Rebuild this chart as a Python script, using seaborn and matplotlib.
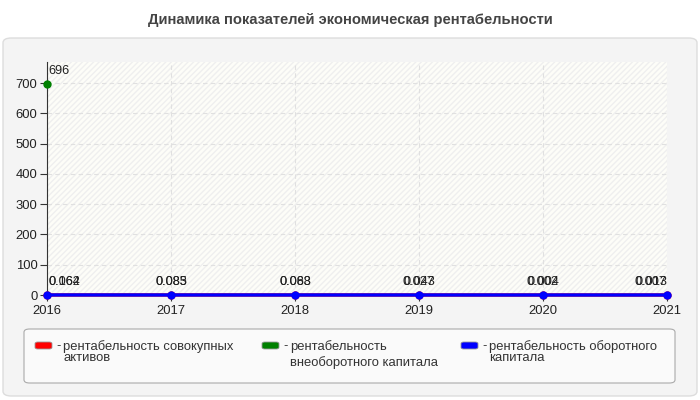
import matplotlib
matplotlib.use("Agg")
import matplotlib.pyplot as plt
import seaborn as sns
import numpy as np
import pandas as pd
from matplotlib.patches import FancyBboxPatch, Rectangle

years = [2016, 2017, 2018, 2019, 2020, 2021]
red_vals = [0.062, 0.083, 0.063, 0.027, 0.002, 0.007]
green_vals = [696, np.nan, np.nan, np.nan, np.nan, np.nan]
blue_vals = [0.164, 0.085, 0.088, 0.043, 0.004, 0.013]
series_names = ["рентабельность совокупных\nактивов",
                "рентабельность\nвнеоборотного капитала",
                "рентабельность оборотного\nкапитала"]
colors = ["#ff0000", "#008000", "#0000ff"]
yticks = [0, 100, 200, 300, 400, 500, 600, 700]
title = "Динамика показателей экономическая рентабельности"

sns.set_theme(style="white")
plt.rcParams['font.family'] = ['Liberation Sans', 'DejaVu Sans']

W, H = 700, 400
fig = plt.figure(figsize=(7, 4), dpi=100)
fig.patch.set_facecolor("white")

def fx(px):
    return px / W

def fy(py):
    return 1 - py / H

# outer panel
panel = FancyBboxPatch((fx(3), fy(396)), fx(694), 358 / H, boxstyle="round,pad=0,rounding_size=0.012",
                       transform=fig.transFigure, facecolor="#f4f4f4", edgecolor="#dddddd", lw=1, zorder=-5)
fig.add_artist(panel)

fig.text(0.5, fy(20), title, ha="center", va="center", fontsize=10.6, fontweight="bold", color="#444444")

ax = fig.add_axes([fx(47), fy(295), fx(620), 233 / H])
ax.set_zorder(2)
ax.set_facecolor("#fdfdf8")
ax.add_patch(Rectangle((0, 0), 1, 1, transform=ax.transAxes, facecolor="none",
                       edgecolor="#efefef", hatch="//////", lw=0, zorder=0))

df = pd.DataFrame({"year": years, "red": red_vals, "green": green_vals, "blue": blue_vals})
for col, c in zip(["red", "green", "blue"], colors):
    sub = df[["year", col]].dropna()
    sns.lineplot(data=sub, x="year", y=col, ax=ax, color=c, lw=2.4, marker="o",
                 markersize=6, markeredgewidth=0, zorder=3, clip_on=False)

for col in ["red", "green", "blue"]:
    for i, (x, y) in enumerate(zip(df["year"], df[col])):
        if np.isnan(y):
            continue
        ha = "center"
        dx = 0
        if i == 0:
            ha = "left"
            dx = 1
        elif i == len(years) - 1:
            ha = "right"
        lbl = f"{y:g}" if y >= 1 else f"{y:.3f}"
        ax.annotate(lbl, (x, y), xytext=(dx, 5), textcoords="offset points",
                    ha=ha, va="bottom", fontsize=9.2, color="#222222", zorder=5, annotation_clip=False)

ax.set_xlim(2016, 2021)
ax.set_ylim(0, 770)
ax.set_xticks(years)
ax.set_xticklabels([str(y) for y in years])
ax.set_yticks(yticks)
ax.set_xlabel("")
ax.set_ylabel("")
ax.grid(True, color="#e0e0e0", ls=(0, (4, 3)), lw=0.8)
ax.set_axisbelow(True)
for s in ["top", "right"]:
    ax.spines[s].set_visible(False)
ax.spines["left"].set_color("#333333")
ax.spines["left"].set_linewidth(0.8)
ax.spines["bottom"].set_color("#333333")
ax.tick_params(axis="y", length=5, width=0.8, color="#333333", labelsize=9.4, labelcolor="#222222", pad=2, left=True)
ax.tick_params(axis="x", length=4, width=0.8, color="#333333", labelsize=9.4, labelcolor="#222222", pad=3.5, bottom=True)

# legend box
lbox = FancyBboxPatch((fx(24), fy(383)), fx(651), 54 / H, boxstyle="round,pad=0,rounding_size=0.008",
                      transform=fig.transFigure, facecolor="#fafafa", edgecolor="#aaaaaa", lw=0.8, zorder=-4)
fig.add_artist(lbox)
patch_x = [35, 262, 461]
spacings = [0.92, 1.3, 0.92]
for c, name, px, sp in zip(colors, series_names, patch_x, spacings):
    sw = FancyBboxPatch((fx(px), fy(349)), fx(17), 7 / H, boxstyle="round,pad=0,rounding_size=0.004",
                        transform=fig.transFigure, facecolor=c, edgecolor="#999999", lw=0.6, zorder=3)
    fig.add_artist(sw)
    fig.text(fx(px + 21), fy(340), "-", ha="left", va="top", fontsize=9.4, color="#333333")
    fig.text(fx(px + 28), fy(340), name, ha="left", va="top", fontsize=9.4, color="#333333", linespacing=sp)

fig.savefig("out.png", dpi=100, facecolor="white")
